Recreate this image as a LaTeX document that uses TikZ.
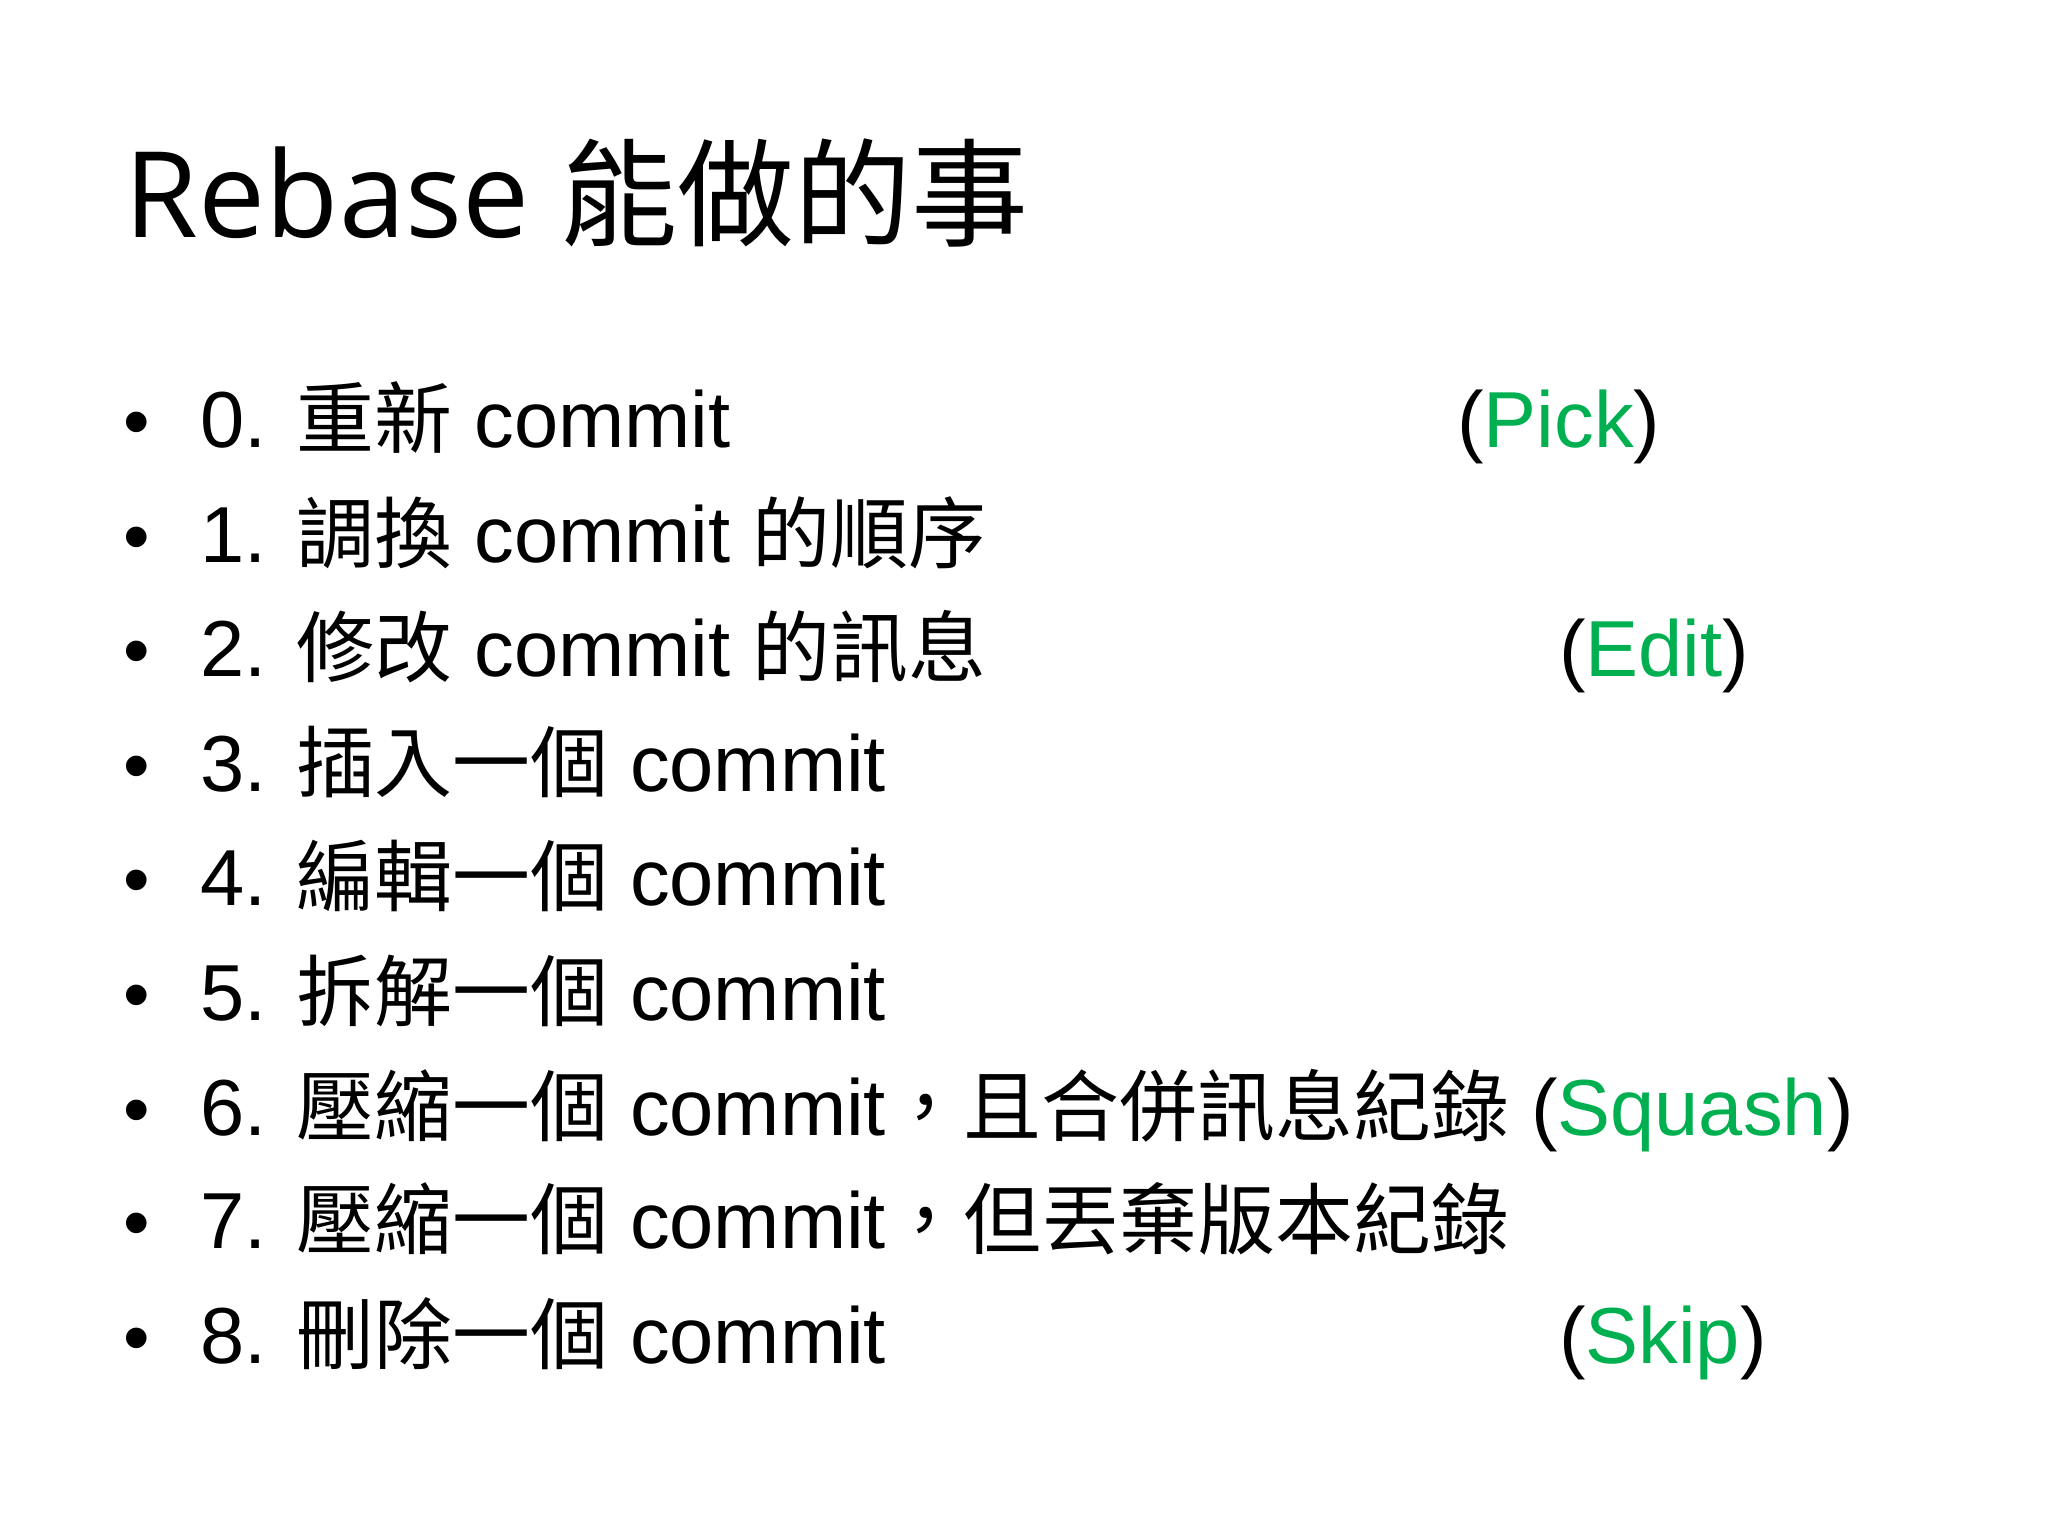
\documentclass[tikz,border=0pt]{standalone}
\usepackage{fontspec}
\setmainfont{Liberation Sans}
\newfontfamily\cjk{Noto Sans CJK TC}[Scale=0.98]
\newfontfamily\ttl{Open Sans}
\definecolor{grn}{HTML}{00B050}
\newcommand{\cj}[1]{{\cjk #1}}
\newcommand{\gr}[1]{(\textcolor{grn}{#1})}
\begin{document}
\begin{tikzpicture}[x=0.01cm,y=-0.01cm]
\tikzset{item/.style={anchor=base west,inner sep=0,font=\fontsize{17.3pt}{19pt}\selectfont},
 bul/.style={anchor=base,inner sep=0,font=\fontsize{16.5pt}{18pt}\selectfont}}
\useasboundingbox (0,0) rectangle (1568,1176);
\node[anchor=base west,inner sep=0,font=\fontsize{26pt}{28pt}\selectfont] (title) at (95,182) {\ttl Rebase \cj{能做的事}};
\foreach \y/\t [count=\i] in {343/{0. \cj{重新} commit},431/{1. \cj{調換} commit \cj{的順序}},518/{2. \cj{修改} commit \cj{的訊息}},606/{3. \cj{插入一個} commit},693/{4. \cj{編輯一個} commit},781/{5. \cj{拆解一個} commit},869/{6. \cj{壓縮一個} commit\cj{，且合併訊息紀錄} \gr{Squash}},956/{7. \cj{壓縮一個} commit\cj{，但丟棄版本紀錄}},1044/{8. \cj{刪除一個} commit}}{
 \node[bul] (b\i) at (105,\y) {•};
 \node[item] (t\i) at (153,\y) {\t};
}
\node[item] (pick) at (1115,343) {\gr{Pick}};
\node[item] (edit) at (1193,518) {\gr{Edit}};
\node[item] (skip) at (1193,1044) {\gr{Skip}};
\end{tikzpicture}
\end{document}
